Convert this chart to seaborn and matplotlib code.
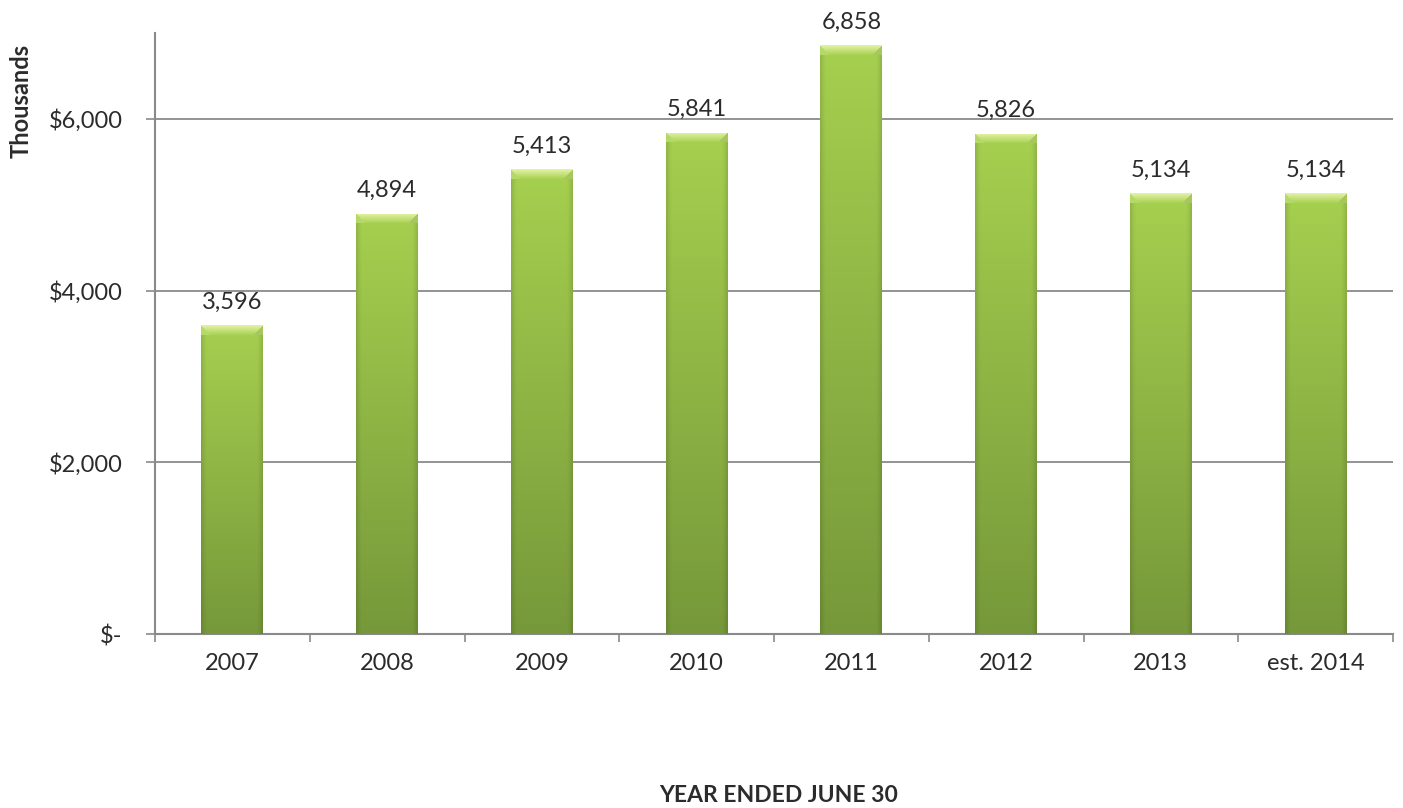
import numpy as np
import pandas as pd
import matplotlib
matplotlib.use("Agg")
import matplotlib.pyplot as plt
import seaborn as sns
from matplotlib.colors import to_rgb

# Annual totals, in thousands of dollars
years = ["2007", "2008", "2009", "2010", "2011", "2012", "2013", "est. 2014"]
totals = [3596, 4894, 5413, 5841, 6858, 5826, 5134, 5134]
y_ticks = [0, 2000, 4000, 6000]
y_tick_labels = ["$-", "$2,000", "$4,000", "$6,000"]

sns.set_theme(style="white")
plt.rcParams["font.family"] = ["Lato", "DejaVu Sans"]

TEXT = "#2b2b2b"
AXIS = "#8a8a8a"

fig = plt.figure(figsize=(14.03, 8.08), dpi=100)
W, H = 1403, 808
ax = fig.add_axes([155 / W, 1 - 634 / H, (1393 - 155) / W, (634 - 33) / H])

df = pd.DataFrame({"year": years, "total": totals})
sns.barplot(data=df, x="year", y="total", color="#93bb47", saturation=1,
            width=0.4, ax=ax, zorder=3)

ax.set_xlim(-0.5, len(years) - 0.5)
ax.set_ylim(0, 7000)

# Shade each bar with a vertical gradient and a bevelled top face
top_col = np.array(to_rgb("#a6d04f"))
bot_col = np.array(to_rgb("#76983a"))
bevel_col = np.array(to_rgb("#e2f2a2"))
side_col = np.array(to_rgb("#b4d966"))
fig.canvas.draw()
for patch in list(ax.patches):
    x0, y0 = patch.get_x(), patch.get_y()
    w, h = patch.get_width(), patch.get_height()
    (px0, py0), (px1, py1) = ax.transData.transform([(x0, y0), (x0 + w, y0 + h)])
    cols = max(int(round(px1 - px0)), 2)
    rows = max(int(round(py1 - py0)), 2)
    t = np.linspace(0, 1, rows)[:, None, None]
    img = top_col * (1 - t) + bot_col * t
    img = np.repeat(img, cols, axis=1)
    # slightly darker side edges
    u = np.linspace(-1, 1, cols)
    edge = 1 - 0.12 * np.clip((np.abs(u) - 0.8) / 0.2, 0, 1) ** 1.5
    img = img * edge[None, :, None]
    # bevel on the top
    bev = 10
    for r in range(min(bev, rows)):
        f = r / bev
        img[r, r:cols - r] = bevel_col * (1 - f) + top_col * f
        img[r, :r] = side_col
        img[r, cols - r:] = side_col * 0.92
    img = np.clip(img, 0, 1)
    im = ax.imshow(img, extent=[x0, x0 + w, y0, y0 + h], origin="upper",
                   aspect="auto", interpolation="bilinear", zorder=3.5)
    im.set_clip_path(patch)
    patch.set_edgecolor("none")

ax.set_xlim(-0.5, len(years) - 0.5)
ax.set_ylim(0, 7000)

# Value labels above the bars
ax.bar_label(ax.containers[0], labels=[f"{v:,}" for v in totals],
             padding=9, fontsize=17, color=TEXT)

# Axes styling
sns.despine(ax=ax, top=True, right=True)
for side in ("left", "bottom"):
    ax.spines[side].set_color(AXIS)
    ax.spines[side].set_linewidth(1.5)
ax.set_yticks(y_ticks)
ax.set_yticklabels(y_tick_labels)
ax.yaxis.grid(True, color=AXIS, linewidth=1.3)
ax.set_axisbelow(True)
ax.tick_params(axis="y", which="major", left=True, length=6.5, width=1.2,
               color=AXIS, pad=17, labelsize=17, labelcolor=TEXT, direction="out")
ax.tick_params(axis="x", which="major", length=0, pad=14, labelsize=17,
               labelcolor=TEXT)
ax.set_xticks(np.arange(-0.5, len(years), 1), minor=True)
ax.tick_params(axis="x", which="minor", bottom=True, length=5.5, width=1.2,
               color=AXIS, direction="out")
ax.set_xlabel("")
ax.set_ylabel("")

fig.text(21 / W, 1 - 101 / H, "Thousands", rotation=90, ha="center",
         va="center", fontsize=17, fontweight="bold", color=TEXT)
fig.text(779 / W, 1 - 802 / H, "YEAR ENDED JUNE 30", ha="center",
         va="baseline", fontsize=16.5, fontweight="bold", color=TEXT)

fig.savefig("out.png", dpi=100, facecolor="white")
